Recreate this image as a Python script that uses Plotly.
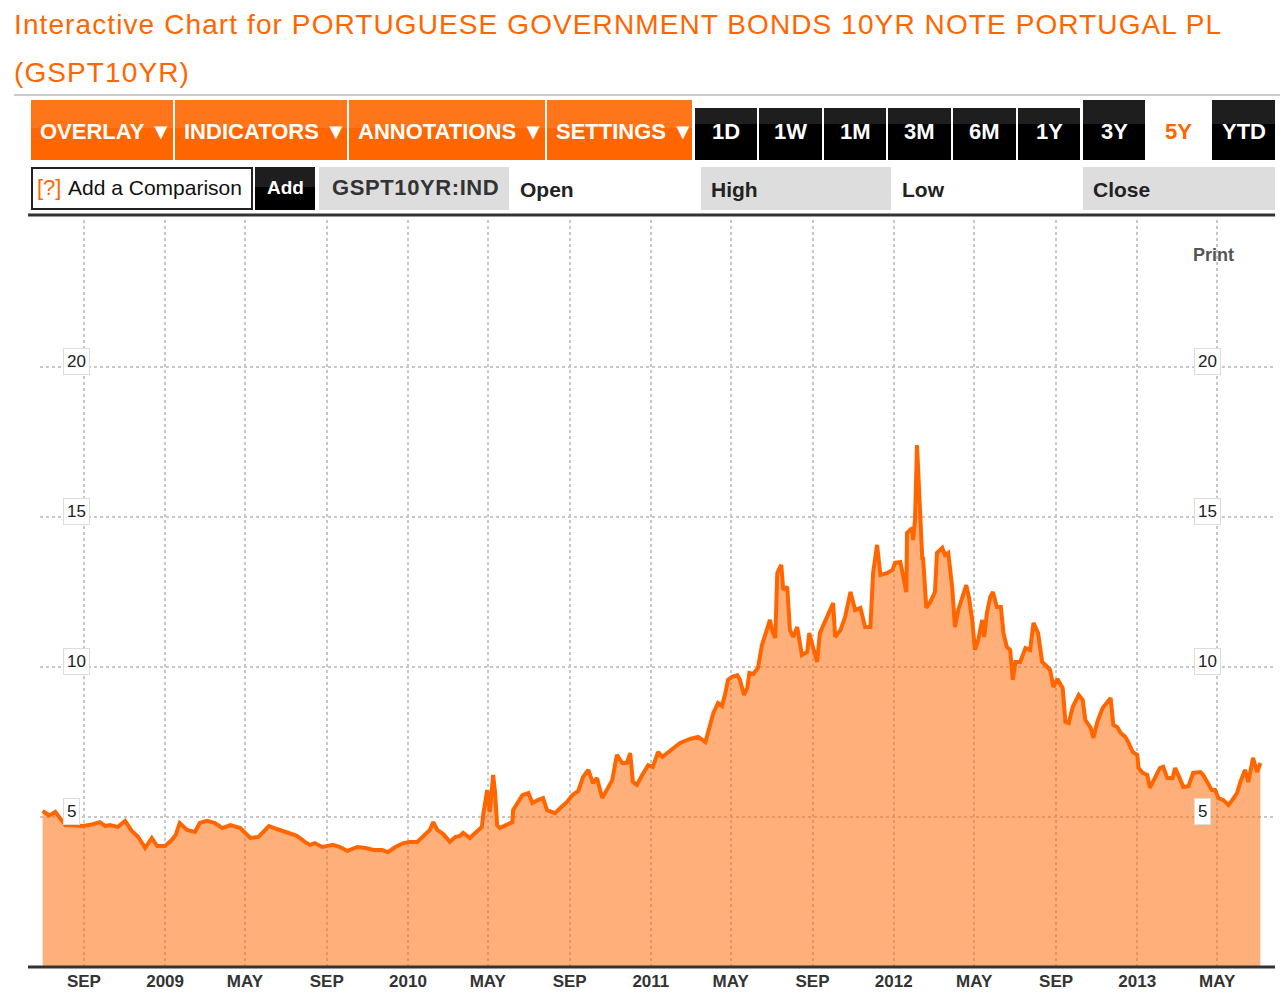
import plotly.graph_objects as go

# ---------------- data ----------------
dates = [
    "2008-07-01", "2008-07-11", "2008-07-20", "2008-07-27", "2008-08-04", "2008-08-19", "2008-08-31",
    "2008-09-13", "2008-09-25", "2008-10-03", "2008-10-10", "2008-10-22", "2008-11-02", "2008-11-12",
    "2008-11-21", "2008-12-02", "2008-12-12", "2008-12-20", "2009-01-01", "2009-01-11", "2009-01-17",
    "2009-01-23", "2009-02-03", "2009-02-15", "2009-02-22", "2009-03-05", "2009-03-17", "2009-03-28",
    "2009-04-09", "2009-04-24", "2009-05-09", "2009-05-21", "2009-05-28", "2009-06-06", "2009-06-18",
    "2009-07-03", "2009-07-18", "2009-07-30", "2009-08-07", "2009-08-14", "2009-08-25", "2009-09-01",
    "2009-09-10", "2009-09-21", "2009-10-02", "2009-10-17", "2009-10-29", "2009-11-10", "2009-11-23",
    "2009-12-02", "2009-12-13", "2009-12-25", "2010-01-04", "2010-01-15", "2010-01-24", "2010-02-03",
    "2010-02-08", "2010-02-14", "2010-02-23", "2010-03-05", "2010-03-13", "2010-03-20", "2010-03-25",
    "2010-04-04", "2010-04-12", "2010-04-22", "2010-04-24", "2010-04-30", "2010-05-04", "2010-05-09",
    "2010-05-12", "2010-05-15", "2010-05-19", "2010-05-30", "2010-06-07", "2010-06-08", "2010-06-16",
    "2010-06-22", "2010-07-01", "2010-07-07", "2010-07-16", "2010-07-23", "2010-07-29", "2010-08-10",
    "2010-08-18", "2010-08-28", "2010-09-05", "2010-09-14", "2010-09-21", "2010-09-29", "2010-10-06",
    "2010-10-12", "2010-10-20", "2010-10-27", "2010-11-04", "2010-11-11", "2010-11-19", "2010-11-26",
    "2010-12-01", "2010-12-05", "2010-12-11", "2010-12-19", "2010-12-28", "2011-01-04", "2011-01-12",
    "2011-01-18", "2011-01-25", "2011-01-30", "2011-02-14", "2011-03-01", "2011-03-13", "2011-03-24",
    "2011-03-28", "2011-04-05", "2011-04-12", "2011-04-18", "2011-04-23", "2011-04-27", "2011-05-03",
    "2011-05-11", "2011-05-15", "2011-05-21", "2011-05-26", "2011-05-29", "2011-06-04", "2011-06-11",
    "2011-06-17", "2011-06-25", "2011-06-29", "2011-07-02", "2011-07-07", "2011-07-10", "2011-07-16",
    "2011-07-19", "2011-07-25", "2011-07-29", "2011-08-03", "2011-08-09", "2011-08-16", "2011-08-24",
    "2011-08-27", "2011-09-02", "2011-09-08", "2011-09-12", "2011-09-17", "2011-09-24", "2011-10-02",
    "2011-10-05", "2011-10-13", "2011-10-20", "2011-10-28", "2011-11-04", "2011-11-12", "2011-11-19",
    "2011-11-27", "2011-12-01", "2011-12-07", "2011-12-12", "2011-12-22", "2011-12-30", "2012-01-03",
    "2012-01-11", "2012-01-15", "2012-01-20", "2012-01-21", "2012-01-29", "2012-01-30", "2012-02-02",
    "2012-02-05", "2012-02-08", "2012-02-13", "2012-02-14", "2012-02-19", "2012-02-25", "2012-03-03",
    "2012-03-06", "2012-03-14", "2012-03-18", "2012-03-23", "2012-03-29", "2012-04-02", "2012-04-07",
    "2012-04-13", "2012-04-19", "2012-04-23", "2012-04-28", "2012-05-02", "2012-05-07", "2012-05-13",
    "2012-05-16", "2012-05-20", "2012-05-25", "2012-05-29", "2012-06-04", "2012-06-10", "2012-06-14",
    "2012-06-19", "2012-06-24", "2012-06-28", "2012-07-02", "2012-07-09", "2012-07-17", "2012-07-24",
    "2012-07-29", "2012-08-05", "2012-08-11", "2012-08-19", "2012-08-23", "2012-08-28", "2012-09-03",
    "2012-09-11", "2012-09-15", "2012-09-20", "2012-09-26", "2012-10-05", "2012-10-11", "2012-10-15",
    "2012-10-23", "2012-10-27", "2012-11-02", "2012-11-10", "2012-11-17", "2012-11-22", "2012-11-26",
    "2012-12-02", "2012-12-07", "2012-12-14", "2012-12-19", "2012-12-25", "2013-01-01", "2013-01-03",
    "2013-01-09", "2013-01-16", "2013-01-20", "2013-01-28", "2013-02-04", "2013-02-09", "2013-02-15",
    "2013-02-23", "2013-02-27", "2013-03-07", "2013-03-11", "2013-03-19", "2013-03-26", "2013-04-06",
    "2013-04-10", "2013-04-17", "2013-04-23", "2013-04-28", "2013-05-03", "2013-05-10", "2013-05-18",
    "2013-05-24", "2013-05-31", "2013-06-05", "2013-06-12", "2013-06-17", "2013-06-24", "2013-06-30",
    "2013-07-05",
]
yields = [
    5.20, 5.05, 5.17, 4.95, 4.73, 4.72, 4.70,
    4.75, 4.83, 4.70, 4.73, 4.67, 4.87, 4.53,
    4.35, 3.97, 4.30, 4.03, 4.03, 4.23, 4.40,
    4.80, 4.57, 4.50, 4.80, 4.87, 4.80, 4.63,
    4.73, 4.63, 4.30, 4.33, 4.50, 4.70, 4.60,
    4.47, 4.37, 4.17, 4.07, 4.13, 4.00, 4.03,
    4.07, 4.00, 3.87, 4.00, 3.97, 3.90, 3.90,
    3.83, 4.00, 4.13, 4.17, 4.17, 4.37, 4.57,
    4.83, 4.57, 4.43, 4.17, 4.33, 4.37, 4.47,
    4.30, 4.47, 4.67, 5.07, 5.90, 5.17, 6.40,
    5.80, 4.73, 4.63, 4.73, 4.83, 5.23, 5.50,
    5.73, 5.80, 5.47, 5.57, 5.63, 5.23, 5.13,
    5.30, 5.50, 5.73, 5.87, 6.33, 6.57, 6.13,
    6.30, 5.63, 5.90, 6.23, 7.07, 6.80, 6.80,
    7.13, 6.17, 6.07, 6.40, 6.73, 6.67, 7.17,
    7.00, 7.13, 7.23, 7.47, 7.60, 7.67, 7.50,
    7.80, 8.47, 8.80, 8.70, 9.13, 9.57, 9.67,
    9.73, 9.57, 9.07, 9.30, 9.80, 9.77, 9.97,
    10.73, 11.23, 11.57, 11.23, 10.97, 13.13, 13.40,
    12.57, 12.67, 11.23, 11.00, 11.33, 10.40, 10.50,
    11.13, 10.63, 10.17, 11.13, 11.40, 11.70, 12.13,
    11.00, 11.23, 11.67, 12.50, 11.90, 11.97, 11.33,
    11.33, 13.13, 14.07, 13.07, 13.13, 13.23, 13.47,
    13.50, 13.00, 12.50, 14.47, 14.63, 14.23, 14.90,
    17.40, 15.67, 13.57, 13.67, 11.97, 12.17, 12.50,
    13.80, 13.97, 13.73, 13.80, 12.63, 11.33, 11.90,
    12.33, 12.73, 12.33, 11.57, 10.57, 10.90, 11.57,
    11.00, 11.80, 12.33, 12.50, 12.00, 12.00, 11.13,
    10.67, 10.57, 9.57, 10.17, 10.17, 10.63, 10.57,
    11.47, 11.13, 10.17, 10.00, 9.90, 9.33, 9.60,
    9.30, 8.17, 8.13, 8.67, 9.07, 8.90, 8.23,
    7.97, 7.63, 8.17, 8.63, 8.80, 8.97, 8.07,
    8.00, 7.80, 7.67, 7.47, 7.17, 7.07, 6.63,
    6.47, 6.40, 5.97, 6.33, 6.63, 6.67, 6.30,
    6.30, 6.63, 6.23, 6.00, 6.03, 6.47, 6.50,
    6.40, 6.13, 5.90, 5.90, 5.63, 5.57, 5.40,
    5.57, 5.80, 6.17, 6.57, 6.17, 6.97, 6.50,
    6.80,
]

tick_dates = ["2008-09-01", "2009-01-01", "2009-05-01", "2009-09-01", "2010-01-01",
              "2010-05-01", "2010-09-01", "2011-01-01", "2011-05-01", "2011-09-01",
              "2012-01-01", "2012-05-01", "2012-09-01", "2013-01-01", "2013-05-01"]
tick_labels = ["SEP", "2009", "MAY", "SEP", "2010", "MAY", "SEP", "2011", "MAY", "SEP",
               "2012", "MAY", "SEP", "2013", "MAY"]
y_ticks = [5, 10, 15, 20]

title_line1 = "Interactive Chart for PORTUGUESE GOVERNMENT BONDS 10YR NOTE PORTUGAL PL"
title_line2 = "(GSPT10YR)"
menu_labels = ["OVERLAY ▼", "INDICATORS ▼", "ANNOTATIONS ▼", "SETTINGS ▼"]
period_labels = ["1D", "1W", "1M", "3M", "6M", "1Y", "3Y", "5Y", "YTD"]
active_period = "5Y"
quote_fields = ["Open", "High", "Low", "Close"]
symbol = "GSPT10YR:IND"

# ---------------- layout helpers ----------------
W, H = 1280, 1002
ORANGE = "#ff6600"
FONT = "Liberation Sans, Arial, Helvetica, sans-serif"


def fx(x):
    return x / W


def fy(y):
    return 1 - y / H


shapes = []
annotations = []


def rect(x0, y0, x1, y1, fill, line_color=None, line_width=0, layer="above"):
    shapes.append(dict(type="rect", xref="paper", yref="paper",
                       x0=fx(x0), x1=fx(x1), y0=fy(y1), y1=fy(y0),
                       fillcolor=fill, layer=layer,
                       line=dict(color=line_color or fill, width=line_width)))


def hline(x0, x1, y, color, width):
    shapes.append(dict(type="line", xref="paper", yref="paper",
                       x0=fx(x0), x1=fx(x1), y0=fy(y), y1=fy(y),
                       line=dict(color=color, width=width)))


def text(x, y, s, size, color, bold=False, xanchor="left", yanchor="middle", family=FONT):
    annotations.append(dict(xref="paper", yref="paper", x=fx(x), y=fy(y),
                            text=f"<b>{s}</b>" if bold else s, showarrow=False,
                            xanchor=xanchor, yanchor=yanchor,
                            font=dict(family=family, size=size, color=color)))


# title
text(12, 25, f'<span style="letter-spacing:1.1px">{title_line1}</span>', 28, ORANGE)
text(12, 72, f'<span style="letter-spacing:1.1px">{title_line2}</span>', 28, ORANGE)
hline(14, 1280, 95, "#cccccc", 2)

# menu buttons (orange)
menu_x = [(31, 173), (175, 347), (349, 545), (547, 692)]
for (x0, x1), lab in zip(menu_x, menu_labels):
    rect(x0, 100, x1, 160, "#ff6600")
    rect(x0, 100, x1, 128, "#ff751a")
    text(x0 + 7, 131, lab, 22, "white", bold=True)

# period buttons (black)
period_x = [(695, 757), (759, 822), (824, 886), (888, 951), (953, 1016),
            (1018, 1080), (1083, 1145), (1147, 1210), (1212, 1275)]
for (x0, x1), lab in zip(period_x, period_labels):
    top = 100 if lab in ("3Y", "YTD") else 108
    if lab == active_period:
        text((x0 + x1) / 2, 131, lab, 22, ORANGE, bold=True, xanchor="center")
        continue
    rect(x0, top, x1, 160, "#000000")
    rect(x0, top, x1, 124, "#1e1e1e")
    text((x0 + x1) / 2, 131, lab, 22, "white", bold=True, xanchor="center")

# comparison row
rect(32, 168, 252, 209, "white", "#222222", 2)
text(35, 188, "[?]", 22, ORANGE)
text(66, 188, "Add a Comparison", 21, "#111111")
rect(255, 167, 315, 210, "#000000")
rect(255, 167, 315, 187, "#1e1e1e")
text(285, 188, "Add", 19, "white", bold=True, xanchor="center")
rect(319, 167, 509, 210, "#dddddd")
text(330, 188, f'<span style="letter-spacing:0.6px">{symbol}</span>', 22, "#333333", bold=True)
field_boxes = [(510, 700, None), (701, 891, "#dddddd"), (892, 1082, None), (1083, 1275, "#dddddd")]
for (x0, x1, bg), lab in zip(field_boxes, quote_fields):
    if bg:
        rect(x0, 167, x1, 210, bg)
    text(x0 + 8, 189, lab, 21, "#222222", bold=True)
hline(28, 1275, 215, "#333333", 3)

# chart decorations
hline(28, 1275, 967, "#333333", 3)
text(1213, 255, "Print", 18, "#555555", bold=True, xanchor="center")

for v in y_ticks:
    for xpos in (63, 1194):
        annotations.append(dict(xref="paper", yref="y", x=fx(xpos), y=v, yshift=6,
                                text=str(v), showarrow=False, xanchor="left", yanchor="middle",
                                bgcolor="white", bordercolor="#dddddd", borderwidth=1, borderpad=3,
                                font=dict(family=FONT, size=17, color="#222222")))

# ---------------- figure ----------------
fig = go.Figure()
fig.add_trace(go.Scatter(
    x=dates, y=yields, mode="lines", fill="tozeroy",
    fillcolor="rgba(255,102,0,0.52)",
    line=dict(color=ORANGE, width=4),
    hoverinfo="x+y", showlegend=False,
))

fig.update_layout(
    width=W, height=H,
    margin=dict(l=0, r=0, t=0, b=0),
    paper_bgcolor="white", plot_bgcolor="white",
    font=dict(family=FONT),
    shapes=shapes, annotations=annotations,
    xaxis=dict(
        domain=[fx(40), fx(1275)],
        type="date",
        range=["2008-06-27", "2013-07-27"],
        tickvals=tick_dates,
        ticktext=[f"<b>{t}</b>" for t in tick_labels],
        tickfont=dict(family=FONT, size=17, color="#333333"),
        ticklabelstandoff=2,
        showgrid=True, gridcolor="#c8c8c8", griddash="dot", gridwidth=1.5,
        showline=False, zeroline=False, ticks="",
    ),
    yaxis=dict(
        domain=[fy(967), fy(220)],
        range=[0, (967 - 220) / 30],
        tickvals=y_ticks, showticklabels=False,
        showgrid=True, gridcolor="#c8c8c8", griddash="dot", gridwidth=1.5,
        showline=False, zeroline=False, ticks="",
    ),
)

fig.write_html("out.html", config={"displayModeBar": False},
               post_script="document.body.style.margin='0px';document.body.style.overflow='hidden';")
